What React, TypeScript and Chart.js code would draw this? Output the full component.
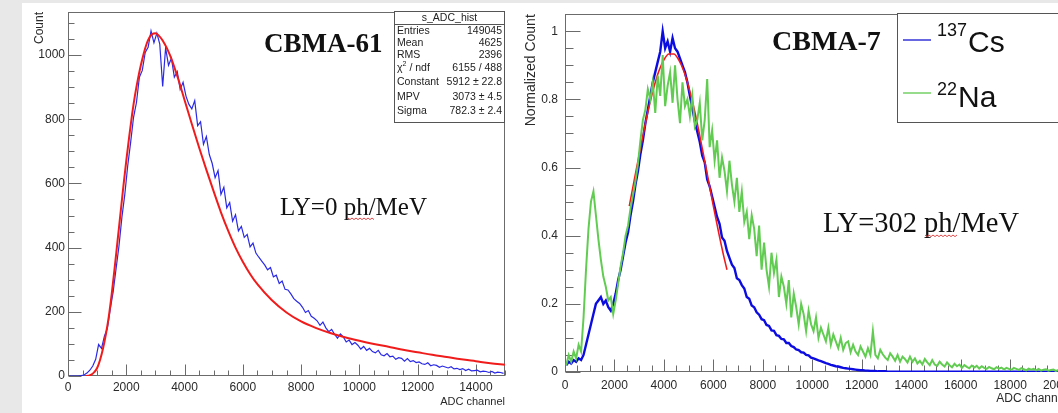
import React, { useEffect, useRef } from "react";
import { Chart, registerables } from "chart.js";

Chart.register(...registerables);
Chart.defaults.font.family = "'Liberation Sans', Arial, sans-serif";

// ---------------- Left panel: CBMA-61 ----------------
const leftBinWidth = 100;
const leftCounts = [
  0, 0, 0, 0, 1, 3, 9, 18, 31, 52,
  98, 86, 124, 148, 208, 262, 334, 405, 494, 566,
  655, 728, 806, 852, 931, 952, 1008, 1024, 1075, 1038,
  1068, 1034, 902, 1022, 968, 990, 931, 948, 893, 915,
  872, 846, 832, 858, 780, 792, 722, 746, 690, 662,
  618, 640, 566, 588, 524, 540, 482, 502, 452, 466,
  432, 441, 402, 414, 383, 370, 358, 346, 331, 338,
  309, 314, 288, 296, 270, 268, 256, 241, 233, 226,
  214, 198, 204, 186, 180, 172, 158, 168, 150, 138,
  145, 130, 118, 131, 122, 106, 112, 98, 104, 96,
  84, 92, 80, 86, 76, 72, 80, 66, 63, 70,
  60, 62, 52, 57, 55, 46, 54, 45, 48, 42,
  44, 38, 36, 41, 32, 35, 33, 27, 31, 28,
  25, 29, 22, 24, 20, 23, 17, 21, 16, 17,
  18, 13, 15, 14, 11, 14, 9, 12, 11, 8,
];
const leftFitX = [
  600, 700, 800, 900, 1000, 1100, 1200, 1300, 1400, 1500, 1600, 1700, 1800, 1900,
  2000, 2100, 2200, 2300, 2400, 2500, 2600, 2700, 2800, 2900, 3000, 3100, 3250,
  3500, 3750, 4000, 4250, 4500, 4750, 5000, 5250, 5500, 5750, 6000, 6250, 6500,
  7000, 7500, 8000, 8500, 9000, 9500, 10000, 10500, 11000, 11500, 12000, 12500,
  13000, 13500, 14000, 14500, 15000,
];
const leftFitY = [
  0, 1, 4, 12, 25, 50, 85, 130, 185, 255, 335, 420, 505, 590,
  670, 745, 815, 875, 925, 968, 1005, 1035, 1055, 1066, 1068, 1062, 1045,
  1000, 935, 860, 785, 712, 642, 575, 510, 452, 400, 356, 318, 286,
  236, 198, 170, 150, 134, 121, 110, 100, 91, 82, 74, 66,
  59, 52, 46, 40, 35,
];
const leftXTicks = [0, 2000, 4000, 6000, 8000, 10000, 12000, 14000];
const leftYTicks = [0, 200, 400, 600, 800, 1000];
const leftTitle = "CBMA-61";
const leftLY = "LY=0 ph/MeV";
const statsTitle = "s_ADC_hist";
const statsLabels = ["Entries", "Mean", "RMS", "χ2 / ndf", "Constant", "MPV", "Sigma"];
const statsValues = ["149045", "4625", "2396", "6155 / 488", "5912 ± 22.8", "3073 ± 4.5", "782.3 ± 2.4"];

// ---------------- Right panel: CBMA-7 ----------------
const rightBinWidth = 100;
const csCounts = [
  0.02, 0.03, 0.025, 0.035, 0.03, 0.04, 0.035, 0.05, 0.08, 0.11,
  0.14, 0.17, 0.2, 0.21, 0.22, 0.2, 0.21, 0.19, 0.18, 0.2,
  0.23, 0.27, 0.3, 0.34, 0.38, 0.41, 0.46, 0.5, 0.55, 0.59,
  0.64, 0.68, 0.73, 0.77, 0.81, 0.85, 0.88, 0.91, 0.94, 1.0,
  0.95, 0.97, 0.94, 0.98, 0.95, 0.94, 0.92, 0.9, 0.88, 0.85,
  0.81, 0.775, 0.735, 0.705, 0.675, 0.635, 0.615, 0.565, 0.545, 0.515,
  0.485, 0.455, 0.435, 0.395, 0.385, 0.355, 0.335, 0.315, 0.305, 0.275,
  0.27, 0.255, 0.245, 0.22, 0.215, 0.195, 0.19, 0.175, 0.168, 0.155,
  0.152, 0.138, 0.135, 0.122, 0.121, 0.108, 0.106, 0.097, 0.096, 0.085,
  0.085, 0.076, 0.073, 0.066, 0.064, 0.058, 0.057, 0.05, 0.049, 0.042,
  0.04, 0.037, 0.034, 0.032, 0.029, 0.026, 0.024, 0.021, 0.019, 0.017,
  0.016, 0.014, 0.012, 0.011, 0.01, 0.009, 0.008, 0.007, 0.006, 0.005,
  0.005, 0.004, 0.004, 0.003, 0.003, 0.003, 0.002, 0.002, 0.002, 0.002,
  0.001, 0.001, 0.001, 0.001, 0.001, 0.001, 0.001, 0.001, 0.001, 0.001,
  0.001, 0.001, 0.001, 0.001, 0.001, 0.001, 0.001, 0.001, 0.001, 0.001,
  0.001, 0.001, 0.001, 0.001, 0.001, 0.001, 0.001, 0.001, 0.001, 0.001,
  0.001, 0.001, 0.001, 0.001, 0.001, 0.001, 0.001, 0.001, 0.001, 0.001,
  0.001, 0.001, 0.001, 0.001, 0.001, 0.001, 0.001, 0.001, 0.001, 0.001,
  0.001, 0.001, 0.001, 0.001, 0.001, 0.001, 0.001, 0.001, 0.001, 0.001,
  0.001, 0.001, 0.001, 0.001, 0.001, 0.001, 0.001, 0.001, 0.001, 0.001,
  0.001, 0.001, 0.001,
];
const naCounts = [
  0.02, 0.05, 0.03, 0.06, 0.04, 0.08, 0.06, 0.16, 0.3, 0.42,
  0.5, 0.53, 0.46, 0.39, 0.33, 0.28, 0.25, 0.21, 0.22, 0.17,
  0.21, 0.26, 0.31, 0.35, 0.4, 0.43, 0.48, 0.52, 0.56, 0.61,
  0.68, 0.74, 0.77, 0.83, 0.8, 0.85, 0.76, 0.87, 0.81, 0.93,
  0.78, 0.84, 0.88, 0.79, 0.9, 0.8, 0.73, 0.85, 0.78, 0.8,
  0.75, 0.81, 0.72, 0.74, 0.79, 0.68, 0.74, 0.86, 0.66, 0.71,
  0.62, 0.68, 0.57, 0.63, 0.59, 0.53, 0.62, 0.55, 0.5, 0.57,
  0.47, 0.53, 0.44, 0.47, 0.39, 0.46, 0.42, 0.34, 0.43, 0.3,
  0.38, 0.3, 0.25, 0.35, 0.29, 0.33, 0.22, 0.28, 0.25, 0.2,
  0.27, 0.16, 0.23, 0.19, 0.14, 0.2, 0.17, 0.12, 0.18, 0.14,
  0.12, 0.16, 0.1, 0.13, 0.11, 0.09, 0.13, 0.08, 0.11, 0.09,
  0.07, 0.1, 0.065, 0.085, 0.09, 0.058, 0.08, 0.06, 0.05, 0.075,
  0.06, 0.045, 0.07, 0.05, 0.12, 0.05, 0.04, 0.065, 0.052, 0.042,
  0.035, 0.055, 0.045, 0.033, 0.05, 0.03, 0.045, 0.038, 0.028, 0.045,
  0.03, 0.04, 0.025, 0.033, 0.022, 0.038, 0.028, 0.02, 0.035, 0.022,
  0.018, 0.03, 0.022, 0.016, 0.028, 0.02, 0.014, 0.024, 0.017, 0.022,
  0.012, 0.02, 0.015, 0.011, 0.019, 0.013, 0.018, 0.01, 0.017, 0.012,
  0.009, 0.015, 0.011, 0.008, 0.014, 0.01, 0.013, 0.007, 0.012, 0.009,
  0.006, 0.012, 0.009, 0.006, 0.011, 0.008, 0.005, 0.01, 0.007, 0.009,
  0.005, 0.009, 0.004, 0.007, 0.008, 0.004, 0.006, 0.007, 0.003, 0.006,
  0.004, 0.006, 0.003,
];
const rightFitX = [
  2600, 2800, 3000, 3200, 3400, 3600, 3800, 4000, 4200, 4400,
  4600, 4800, 5000, 5200, 5400, 5600, 5800, 6000, 6200, 6400, 6550,
];
const rightFitY = [
  0.487, 0.563, 0.638, 0.711, 0.779, 0.837, 0.884, 0.916, 0.933, 0.933,
  0.916, 0.884, 0.837, 0.779, 0.711, 0.638, 0.563, 0.487, 0.414, 0.346, 0.3,
];
const rightXTicks = [0, 2000, 4000, 6000, 8000, 10000, 12000, 14000, 16000, 18000, 20000];
const rightYTicks = [0, 0.2, 0.4, 0.6, 0.8, 1];
const rightTitle = "CBMA-7";
const rightLY = "LY=302 ph/MeV";
const legendMass = ["137", "22"];
const legendSymbol = ["Cs", "Na"];

// ---------------- helpers ----------------
// histogram drawn as a line through the bin centres (fine ROOT-like jitter)
function histPoints(counts: number[], bin: number) {
  return counts.map((c, i) => ({ x: i * bin + bin / 2, y: c }));
}
function xyPoints(xs: number[], ys: number[]) {
  return xs.map((x, i) => ({ x, y: ys[i] }));
}

type AxisStyle = {
  xMajor: number; xMinor: number; yMajor: number; yMinor: number;
  xMajorLen: number; xMinorLen: number; yMajorLen: number; yMinorLen: number;
};

function makeFramePlugin(s: AxisStyle) {
  return {
    id: "rootFrame",
    beforeDatasetsDraw(chart: any) {
      const { ctx, chartArea: a, scales } = chart;
      const xs = scales.x, ys = scales.y;
      const L = Math.round(a.left) + 0.5, R = Math.round(a.right) - 0.5;
      const T = Math.round(a.top) + 0.5, B = Math.round(a.bottom) - 0.5;
      ctx.save();
      ctx.lineWidth = 1;
      ctx.strokeStyle = "#6b6b6b";
      ctx.strokeRect(L, T, R - L, B - T);
      ctx.beginPath();
      const nx = Math.floor((xs.max - xs.min) / s.xMinor + 1e-6);
      for (let i = 0; i <= nx; i++) {
        const v = xs.min + i * s.xMinor;
        const major = Math.abs(v / s.xMajor - Math.round(v / s.xMajor)) < 1e-6;
        const px = Math.round(xs.getPixelForValue(v)) + 0.5;
        ctx.moveTo(px, B);
        ctx.lineTo(px, B - (major ? s.xMajorLen : s.xMinorLen));
      }
      const ny = Math.floor((ys.max - ys.min) / s.yMinor + 1e-6);
      for (let i = 0; i <= ny; i++) {
        const v = ys.min + i * s.yMinor;
        const major = Math.abs(v / s.yMajor - Math.round(v / s.yMajor)) < 1e-6;
        const py = Math.round(ys.getPixelForValue(v)) + 0.5;
        ctx.moveTo(L, py);
        ctx.lineTo(L + (major ? s.yMajorLen : s.yMinorLen), py);
      }
      ctx.stroke();
      ctx.restore();
    },
  };
}

function squiggle(ctx: CanvasRenderingContext2D, x0: number, y0: number, w: number) {
  ctx.save();
  ctx.strokeStyle = "#e04848";
  ctx.lineWidth = 1;
  ctx.beginPath();
  for (let i = 0; i * 2 <= w; i++) {
    const x = x0 + i * 2;
    const y = y0 + (i % 2 ? 1.6 : 0);
    if (i === 0) ctx.moveTo(x, y);
    else ctx.lineTo(x, y);
  }
  ctx.stroke();
  ctx.restore();
}

const leftTextPlugin = {
  id: "leftText",
  afterDraw(chart: any) {
    const ctx: CanvasRenderingContext2D = chart.ctx;
    ctx.save();
    ctx.fillStyle = "#111";
    ctx.textBaseline = "alphabetic";
    ctx.textAlign = "left";
    ctx.font = "bold 27px 'Liberation Serif'";
    ctx.fillText(leftTitle, 242, 52);
    ctx.font = "25px 'Liberation Serif'";
    ctx.fillText(leftLY, 258, 215);
    squiggle(ctx, 326, 218, 26);

    // statistics box
    const bx = 372, by = 11, bw = 111, bh = 112;
    ctx.fillStyle = "#fff";
    ctx.fillRect(bx, by, bw, bh);
    ctx.strokeStyle = "#555";
    ctx.lineWidth = 1;
    ctx.strokeRect(bx + 0.5, by + 0.5, bw - 1, bh - 1);
    ctx.beginPath();
    ctx.moveTo(bx, 24.5);
    ctx.lineTo(bx + bw, 24.5);
    ctx.stroke();
    ctx.fillStyle = "#222";
    ctx.textBaseline = "middle";
    ctx.textAlign = "center";
    ctx.font = "10.5px 'Liberation Sans'";
    ctx.fillText(statsTitle, bx + bw / 2, 18);
    const rowY = [31, 43, 55, 68, 82, 97, 111];
    statsLabels.forEach((lab, i) => {
      ctx.textAlign = "left";
      ctx.font = "10.5px 'Liberation Sans'";
      if (lab.startsWith("χ2")) {
        ctx.fillText("χ", bx + 3, rowY[i]);
        const w = ctx.measureText("χ").width;
        ctx.font = "7px 'Liberation Sans'";
        ctx.fillText("2", bx + 3 + w, rowY[i] - 4);
        ctx.font = "10.5px 'Liberation Sans'";
        ctx.fillText(lab.slice(2), bx + 3 + w + 4, rowY[i]);
      } else {
        ctx.fillText(lab, bx + 3, rowY[i]);
      }
      ctx.textAlign = "right";
      ctx.fillText(statsValues[i], bx + bw - 3, rowY[i]);
    });
    ctx.restore();
  },
};

const rightTextPlugin = {
  id: "rightText",
  afterDraw(chart: any) {
    const ctx: CanvasRenderingContext2D = chart.ctx;
    ctx.save();
    ctx.fillStyle = "#111";
    ctx.textBaseline = "alphabetic";
    ctx.textAlign = "left";
    ctx.font = "bold 28px 'Liberation Serif'";
    ctx.fillText(rightTitle, 257, 50);
    ctx.font = "28.5px 'Liberation Serif'";
    ctx.fillText(rightLY, 308, 232);
    squiggle(ctx, 410, 235, 32);

    // legend box
    const lx = 382, ly = 13, lh = 109;
    ctx.fillStyle = "#fff";
    ctx.fillRect(lx, ly, 300, lh);
    ctx.strokeStyle = "#555";
    ctx.lineWidth = 1;
    ctx.strokeRect(lx + 0.5, ly + 0.5, 300, lh);
    const lineY = [40, 93];
    const massBase = [36, 95];
    const symBase = [52, 107];
    const colors = ["#3535d8", "#74d067"];
    for (let i = 0; i < 2; i++) {
      ctx.strokeStyle = colors[i];
      ctx.lineWidth = 1.5;
      ctx.beginPath();
      ctx.moveTo(388, lineY[i]);
      ctx.lineTo(416, lineY[i]);
      ctx.stroke();
      ctx.fillStyle = "#111";
      ctx.font = "18px 'Liberation Sans'";
      ctx.fillText(legendMass[i], 422, massBase[i]);
      const w = ctx.measureText(legendMass[i]).width;
      ctx.font = "30px 'Liberation Sans'";
      ctx.fillText(legendSymbol[i], 422 + w + 1, symBase[i]);
    }
    ctx.restore();
  },
};

const tickFont = { family: "'Liberation Sans'", size: 12 };

function leftConfig(): any {
  return {
    type: "line",
    data: {
      datasets: [
        {
          label: "Landau fit",
          data: xyPoints(leftFitX, leftFitY),
          borderColor: "#f01c1c",
          borderWidth: 2,
          pointRadius: 0,
          cubicInterpolationMode: "monotone",
          order: 0,
        },
        {
          label: statsTitle,
          data: histPoints(leftCounts, leftBinWidth),
          borderColor: "#2a2ae6",
          borderWidth: 1.2,
          pointRadius: 0,
          order: 1,
        },
      ],
    },
    options: {
      animation: false,
      responsive: false,
      devicePixelRatio: 1,
      events: [],
      layout: { padding: { top: 12, right: 17, left: 0, bottom: 0 } },
      plugins: { legend: { display: false }, tooltip: { enabled: false } },
      scales: {
        x: {
          type: "linear",
          min: 0,
          max: 15000,
          afterBuildTicks: (s: any) => { s.ticks = leftXTicks.map((v) => ({ value: v })); },
          afterFit: (s: any) => { s.height = 37; },
          grid: { display: false, drawTicks: false },
          border: { display: false },
          ticks: { padding: 4, maxRotation: 0, autoSkip: false, color: "#2a2a2a", font: tickFont, callback: (v: any) => String(v) },
          title: { display: true, text: "ADC channel", align: "end", color: "#2a2a2a", font: { family: "'Liberation Sans'", size: 11 }, padding: { top: 0, bottom: 4 } },
        },
        y: {
          type: "linear",
          min: 0,
          max: 1134,
          afterBuildTicks: (s: any) => { s.ticks = leftYTicks.map((v) => ({ value: v })); },
          afterFit: (s: any) => { s.width = 46; },
          grid: { display: false, drawTicks: false },
          border: { display: false },
          ticks: { padding: 3, autoSkip: false, color: "#2a2a2a", font: tickFont, callback: (v: any) => String(v) },
          title: { display: true, text: "Count", align: "end", color: "#2a2a2a", font: { family: "'Liberation Sans'", size: 12 }, padding: { top: 10, bottom: 0 } },
        },
      },
    },
    plugins: [
      makeFramePlugin({ xMajor: 2000, xMinor: 500, yMajor: 200, yMinor: 50, xMajorLen: 11, xMinorLen: 5, yMajorLen: 13, yMinorLen: 6 }),
      leftTextPlugin,
    ],
  };
}

function rightConfig(): any {
  return {
    type: "line",
    data: {
      datasets: [
        {
          label: "22Na",
          data: histPoints(naCounts, rightBinWidth),
          borderColor: "#62cc52",
          borderWidth: 2,
          pointRadius: 0,
          order: 0,
        },
        {
          label: "Gaussian fit",
          data: xyPoints(rightFitX, rightFitY),
          borderColor: "#f01c1c",
          borderWidth: 1.6,
          pointRadius: 0,
          cubicInterpolationMode: "monotone",
          order: 1,
        },
        {
          label: "137Cs",
          data: histPoints(csCounts, rightBinWidth),
          borderColor: "#0c0ce0",
          borderWidth: 2.4,
          pointRadius: 0,
          order: 2,
        },
      ],
    },
    options: {
      animation: false,
      responsive: false,
      devicePixelRatio: 1,
      events: [],
      layout: { padding: { top: 13, right: 28, left: 0, bottom: 0 } },
      plugins: { legend: { display: false }, tooltip: { enabled: false } },
      scales: {
        x: {
          type: "linear",
          min: 0,
          max: 20300,
          afterBuildTicks: (s: any) => { s.ticks = rightXTicks.map((v) => ({ value: v })); },
          afterFit: (s: any) => { s.height = 41; },
          grid: { display: false, drawTicks: false },
          border: { display: false },
          ticks: { padding: 6, maxRotation: 0, autoSkip: false, color: "#2a2a2a", font: tickFont, callback: (v: any) => String(v) },
          title: { display: true, text: "ADC channel", align: "end", color: "#2a2a2a", font: { family: "'Liberation Sans'", size: 12 }, padding: { top: 0, bottom: 7 } },
        },
        y: {
          type: "linear",
          min: 0,
          max: 1.05,
          afterBuildTicks: (s: any) => { s.ticks = rightYTicks.map((v) => ({ value: v })); },
          afterFit: (s: any) => { s.width = 50; },
          grid: { display: false, drawTicks: false },
          border: { display: false },
          ticks: { padding: 7, autoSkip: false, color: "#2a2a2a", font: tickFont, callback: (v: any) => String(Math.round(v * 10) / 10) },
          title: { display: true, text: "Normalized Count", align: "end", color: "#2a2a2a", font: { family: "'Liberation Sans'", size: 14 }, padding: { top: 8, bottom: 0 } },
        },
      },
    },
    plugins: [
      makeFramePlugin({ xMajor: 2000, xMinor: 500, yMajor: 0.2, yMinor: 0.05, xMajorLen: 12, xMinorLen: 6, yMajorLen: 15, yMinorLen: 8 }),
      rightTextPlugin,
    ],
  };
}

export default function App() {
  const leftRef = useRef<HTMLCanvasElement>(null);
  const rightRef = useRef<HTMLCanvasElement>(null);
  useEffect(() => {
    const l = new Chart(leftRef.current as HTMLCanvasElement, leftConfig());
    const r = new Chart(rightRef.current as HTMLCanvasElement, rightConfig());
    return () => {
      l.destroy();
      r.destroy();
    };
  }, []);
  return (
    <div style={{ position: "fixed", left: 0, top: 0, width: 1058, height: 413, overflow: "hidden", background: "#e8e8e8" }}>
      <div style={{ position: "absolute", left: 22, top: 3, right: 0, bottom: 0, background: "#ffffff" }} />
      <canvas ref={leftRef} width={500} height={413} style={{ position: "absolute", left: 22, top: 0, width: 500, height: 413, display: "block" }} />
      <canvas ref={rightRef} width={580} height={413} style={{ position: "absolute", left: 515, top: 0, width: 580, height: 413, display: "block" }} />
    </div>
  );
}
